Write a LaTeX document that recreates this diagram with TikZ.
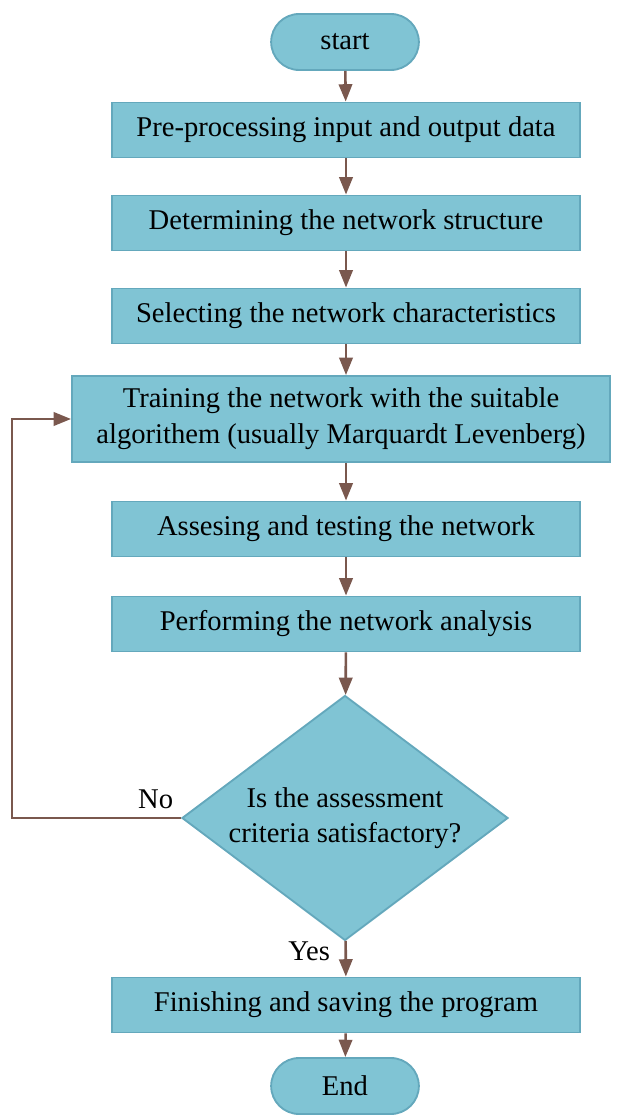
\documentclass[tikz,border=0pt]{standalone}
\usepackage{fontspec}
\setmainfont{Liberation Serif}
\usetikzlibrary{arrows.meta,positioning,shapes.geometric,shapes.misc}
\definecolor{sky}{RGB}{128,196,212}
\definecolor{skyline}{RGB}{100,168,188}
\definecolor{umber}{RGB}{122,88,78}
\tikzset{
  >={Triangle[length=2.6mm,width=2mm]},
  box/.style={draw=skyline,fill=sky,thick,minimum width=7.02cm,minimum height=8.25mm,
    align=center,font=\fontsize{12.2}{15.5}\selectfont,inner sep=2pt},
  terminal/.style={rounded rectangle,draw=skyline,fill=sky,thick,minimum width=2.45cm,
    minimum height=8.4mm,font=\fontsize{12.2}{15.5}\selectfont},
  decision/.style={diamond,aspect=1.33,draw=skyline,fill=sky,thick,minimum width=4.89cm,
    minimum height=3.675cm,inner sep=0pt,align=center,font=\fontsize{12.2}{15}\selectfont},
  flow/.style={->,draw=umber,line width=1.1pt},
  tag/.style={font=\fontsize{12.2}{15}\selectfont},
}

\begin{document}
\begin{tikzpicture}[x=0.015cm,y=0.015cm]
  \useasboundingbox (0,0) rectangle (619,-1117);
  % nodes
  \node[terminal] (start) at (345,-42) {start};
  \node[box] (pre) at (346,-130) {Pre-processing input and output data};
  \node[box] (struct) at (346,-223) {Determining the network structure};
  \node[box] (select) at (346,-316) {Selecting the network characteristics};
  \node[box,minimum width=8.07cm,minimum height=1.29cm] (train) at (341,-419)
    {Training the network with the suitable\\algorithem (usually Marquardt Levenberg)};
  \node[box] (assess) at (346,-529) {Assesing and testing the network};
  \node[box] (analysis) at (346,-624) {Performing the network analysis};
  \node[decision] (crit) at (345,-818) {Is the assessment\\criteria satisfactory?};
  \node[box] (finish) at (346,-1005) {Finishing and saving the program};
  \node[terminal] (end) at (345,-1086) {End};
  \coordinate (back) at (12,-818);
  % connectors
  \draw[flow] (start) -- (pre);
  \draw[flow] (pre) -- (struct);
  \draw[flow] (struct) -- (select);
  \draw[flow] (select) -- (select |- train.north);
  \draw[flow] (train.south -| assess) -- (assess);
  \draw[flow] (assess) -- (analysis);
  \draw[flow] (analysis) -- (crit);
  \draw[flow] (crit) -- node[tag,left=1mm,pos=0.3] {Yes} (finish);
  \draw[flow] (finish) -- (end);
  \draw[flow] (crit.west) -- node[tag,above,pos=0.15] {No} (back) |- (train.west);
\end{tikzpicture}
\end{document}
